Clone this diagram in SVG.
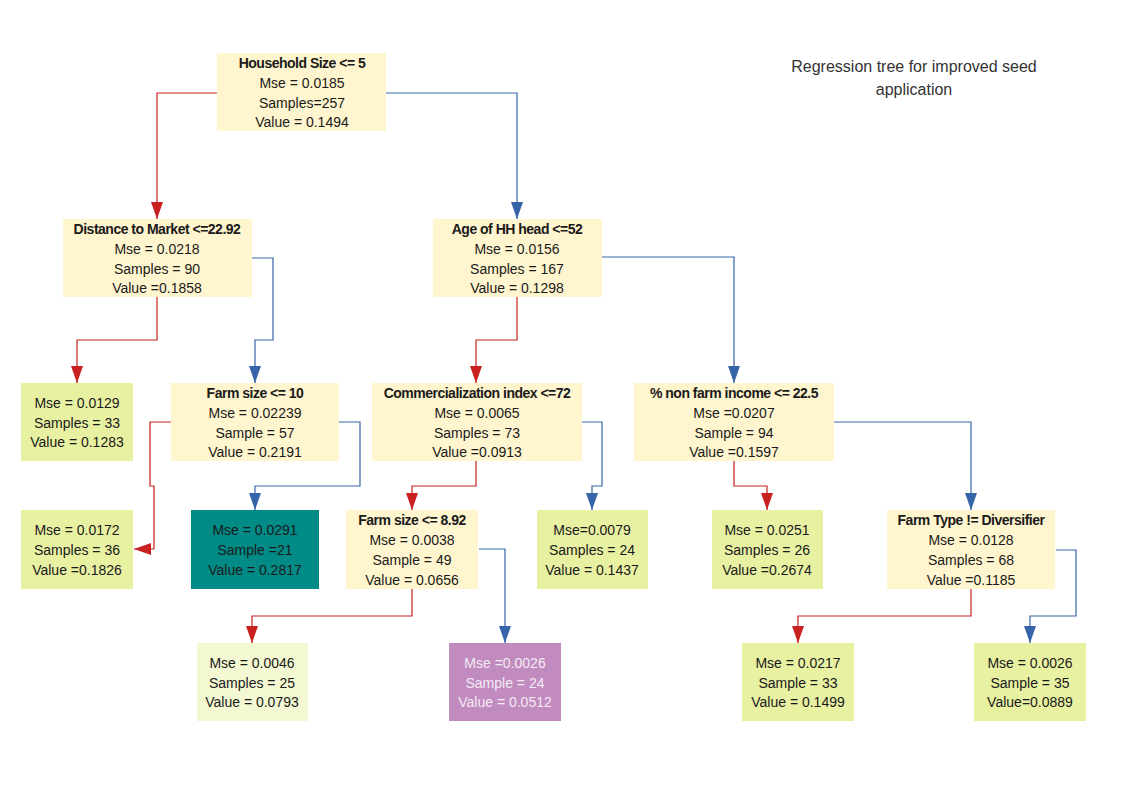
<svg xmlns="http://www.w3.org/2000/svg" width="1123" height="794" viewBox="0 0 1123 794">
<style>
  .bg{fill:#ffffff}
  .split{fill:#FFF5CE}
  .leaf{fill:#E8F1A2}
  .leafl{fill:#F3F8D2}
  .teal{fill:#008B86}
  .purple{fill:#C28BC0}
  text{font-family:"Liberation Sans",Arial,sans-serif;font-size:14px;fill:#1a1a1a;text-anchor:middle}
  .h{font-weight:bold;letter-spacing:-0.5px}
  .lt{fill:#F3EAF3}
  .title{font-size:16px;fill:#333333}
  .r{fill:none;stroke:#C8211F;stroke-width:1.2}
  .b{fill:none;stroke:#3564A8;stroke-width:1.2}
</style>
<defs>
  <marker id="ar" markerUnits="userSpaceOnUse" viewBox="0 0 17 12" refX="17" refY="6" markerWidth="17" markerHeight="12" orient="auto">
    <path d="M0,0 L17,6 L0,12 z" fill="#C8211F"/>
  </marker>
  <marker id="ab" markerUnits="userSpaceOnUse" viewBox="0 0 17 12" refX="17" refY="6" markerWidth="17" markerHeight="12" orient="auto">
    <path d="M0,0 L17,6 L0,12 z" fill="#3564A8"/>
  </marker>
</defs>
<rect class="bg" x="0" y="0" width="1123" height="794"/>

<g id="title">
  <text class="title" x="914" y="72">Regression tree for improved seed</text>
  <text class="title" x="914" y="95">application</text>
</g>

<g id="connectors">
  <path class="r" marker-end="url(#ar)" d="M217,93 H157 V219"/>
  <path class="r" marker-end="url(#ar)" d="M157,297 V340 H77 V383"/>
  <path class="r" marker-end="url(#ar)" d="M517,297 V340 H476 V383"/>
  <path class="r" marker-end="url(#ar)" d="M171,422 H150 V486 H154 V549 H134"/>
  <path class="r" marker-end="url(#ar)" d="M476,461 V486 H412 V510"/>
  <path class="r" marker-end="url(#ar)" d="M734,461 V486 H767 V510"/>
  <path class="r" marker-end="url(#ar)" d="M412,589 V616 H252 V643"/>
  <path class="r" marker-end="url(#ar)" d="M971,589 V616 H798 V643"/>
  <path class="b" marker-end="url(#ab)" d="M386,93 H517 V219"/>
  <path class="b" marker-end="url(#ab)" d="M252,258 H273 V340 H255 V383"/>
  <path class="b" marker-end="url(#ab)" d="M602,257 H734 V383"/>
  <path class="b" marker-end="url(#ab)" d="M339,422 H360 V486 H255 V510"/>
  <path class="b" marker-end="url(#ab)" d="M582,422 H602 V486 H592 V510"/>
  <path class="b" marker-end="url(#ab)" d="M834,422 H971 V510"/>
  <path class="b" marker-end="url(#ab)" d="M479,549 H505 V643"/>
  <path class="b" marker-end="url(#ab)" d="M1056,550 H1076 V616 H1030 V643"/>
</g>

<g id="n-root">
  <rect class="split" x="217" y="53" width="169" height="78"/>
  <text class="h" x="302" y="68">Household Size &lt;= 5</text>
  <text x="302" y="88">Mse = 0.0185</text>
  <text x="302" y="108">Samples=257</text>
  <text x="302" y="127">Value = 0.1494</text>
</g>

<g id="n-distance">
  <rect class="split" x="63" y="219" width="189" height="78"/>
  <text class="h" x="157" y="234">Distance to Market &lt;=22.92</text>
  <text x="157" y="254">Mse = 0.0218</text>
  <text x="157" y="274">Samples = 90</text>
  <text x="157" y="293">Value =0.1858</text>
</g>

<g id="n-age">
  <rect class="split" x="433" y="219" width="169" height="78"/>
  <text class="h" x="517" y="234">Age of HH head &lt;=52</text>
  <text x="517" y="254">Mse = 0.0156</text>
  <text x="517" y="274">Samples = 167</text>
  <text x="517" y="293">Value = 0.1298</text>
</g>

<g id="leaf-0129">
  <rect class="leaf" x="21" y="383" width="112" height="78"/>
  <text x="77" y="408">Mse = 0.0129</text>
  <text x="77" y="428">Samples = 33</text>
  <text x="77" y="447">Value = 0.1283</text>
</g>

<g id="n-farmsize10">
  <rect class="split" x="171" y="383" width="168" height="78"/>
  <text class="h" x="255" y="398">Farm size &lt;= 10</text>
  <text x="255" y="418">Mse = 0.02239</text>
  <text x="255" y="438">Sample = 57</text>
  <text x="255" y="457">Value = 0.2191</text>
</g>

<g id="n-commercial">
  <rect class="split" x="372" y="383" width="210" height="78"/>
  <text class="h" x="477" y="398">Commercialization index &lt;=72</text>
  <text x="477" y="418">Mse = 0.0065</text>
  <text x="477" y="438">Samples = 73</text>
  <text x="477" y="457">Value =0.0913</text>
</g>

<g id="n-nonfarm">
  <rect class="split" x="634" y="383" width="200" height="78"/>
  <text class="h" x="734" y="398">% non farm income &lt;= 22.5</text>
  <text x="734" y="418">Mse =0.0207</text>
  <text x="734" y="438">Sample = 94</text>
  <text x="734" y="457">Value =0.1597</text>
</g>

<g id="leaf-0172">
  <rect class="leaf" x="21" y="510" width="112" height="79"/>
  <text x="77" y="535">Mse = 0.0172</text>
  <text x="77" y="555">Samples = 36</text>
  <text x="77" y="575">Value =0.1826</text>
</g>

<g id="leaf-0291">
  <rect class="teal" x="191" y="510" width="128" height="79"/>
  <text x="255" y="535">Mse = 0.0291</text>
  <text x="255" y="555">Sample =21</text>
  <text x="255" y="575">Value = 0.2817</text>
</g>

<g id="n-farmsize892">
  <rect class="split" x="346" y="510" width="132" height="79"/>
  <text class="h" x="412" y="525">Farm size &lt;= 8.92</text>
  <text x="412" y="545">Mse = 0.0038</text>
  <text x="412" y="565">Sample = 49</text>
  <text x="412" y="585">Value = 0.0656</text>
</g>

<g id="leaf-0079">
  <rect class="leaf" x="537" y="510" width="111" height="79"/>
  <text x="592" y="535">Mse=0.0079</text>
  <text x="592" y="555">Samples = 24</text>
  <text x="592" y="575">Value = 0.1437</text>
</g>

<g id="leaf-0251">
  <rect class="leaf" x="712" y="510" width="111" height="79"/>
  <text x="767" y="535">Mse = 0.0251</text>
  <text x="767" y="555">Samples = 26</text>
  <text x="767" y="575">Value =0.2674</text>
</g>

<g id="n-farmtype">
  <rect class="split" x="887" y="510" width="168" height="79"/>
  <text class="h" x="971" y="525">Farm Type != Diversifier</text>
  <text x="971" y="545">Mse = 0.0128</text>
  <text x="971" y="565">Samples = 68</text>
  <text x="971" y="585">Value =0.1185</text>
</g>

<g id="leaf-0046">
  <rect class="leafl" x="197" y="643" width="111" height="78"/>
  <text x="252" y="668">Mse = 0.0046</text>
  <text x="252" y="688">Samples = 25</text>
  <text x="252" y="707">Value = 0.0793</text>
</g>

<g id="leaf-0026a">
  <rect class="purple" x="449" y="643" width="112" height="78"/>
  <text class="lt" x="505" y="668">Mse =0.0026</text>
  <text class="lt" x="505" y="688">Sample = 24</text>
  <text class="lt" x="505" y="707">Value = 0.0512</text>
</g>

<g id="leaf-0217">
  <rect class="leaf" x="742" y="643" width="112" height="78"/>
  <text x="798" y="668">Mse = 0.0217</text>
  <text x="798" y="688">Sample = 33</text>
  <text x="798" y="707">Value = 0.1499</text>
</g>

<g id="leaf-0026b">
  <rect class="leaf" x="974" y="643" width="112" height="78"/>
  <text x="1030" y="668">Mse = 0.0026</text>
  <text x="1030" y="688">Sample = 35</text>
  <text x="1030" y="707">Value=0.0889</text>
</g>
</svg>
